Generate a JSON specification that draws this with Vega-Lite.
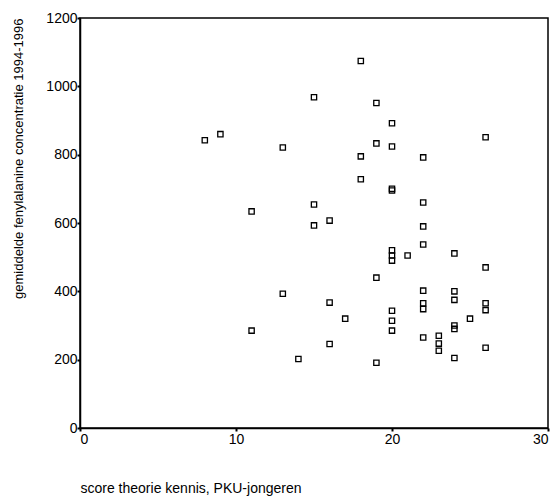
{
  "$schema": "https://vega.github.io/schema/vega-lite/v6.json",
  "width": 468,
  "height": 410,
  "autosize": {"type": "none"},
  "padding": {"left": 80, "top": 18, "right": 10, "bottom": 72},
  "background": "white",
  "config": {
    "font": "Liberation Sans",
    "view": {"stroke": "black", "strokeWidth": 1.5}
  },
  "data": {
    "values": [
      {"score": 8, "phe": 842}, {"score": 9, "phe": 860}, {"score": 11, "phe": 634}, {"score": 11, "phe": 285},
      {"score": 13, "phe": 821}, {"score": 13, "phe": 393}, {"score": 14, "phe": 202}, {"score": 15, "phe": 968},
      {"score": 15, "phe": 654}, {"score": 15, "phe": 593}, {"score": 16, "phe": 607}, {"score": 16, "phe": 367},
      {"score": 16, "phe": 246}, {"score": 17, "phe": 320}, {"score": 18, "phe": 1074}, {"score": 18, "phe": 795},
      {"score": 18, "phe": 728}, {"score": 19, "phe": 951}, {"score": 19, "phe": 833}, {"score": 19, "phe": 440},
      {"score": 19, "phe": 191}, {"score": 20, "phe": 892}, {"score": 20, "phe": 824}, {"score": 20, "phe": 700},
      {"score": 20, "phe": 695}, {"score": 20, "phe": 520}, {"score": 20, "phe": 505}, {"score": 20, "phe": 490},
      {"score": 20, "phe": 343}, {"score": 20, "phe": 314}, {"score": 20, "phe": 285}, {"score": 21, "phe": 505},
      {"score": 22, "phe": 792}, {"score": 22, "phe": 660}, {"score": 22, "phe": 590}, {"score": 22, "phe": 537},
      {"score": 22, "phe": 402}, {"score": 22, "phe": 365}, {"score": 22, "phe": 348}, {"score": 22, "phe": 265},
      {"score": 23, "phe": 270}, {"score": 23, "phe": 247}, {"score": 23, "phe": 226}, {"score": 24, "phe": 511},
      {"score": 24, "phe": 400}, {"score": 24, "phe": 375}, {"score": 24, "phe": 300}, {"score": 24, "phe": 290},
      {"score": 24, "phe": 205}, {"score": 25, "phe": 320}, {"score": 26, "phe": 851}, {"score": 26, "phe": 470},
      {"score": 26, "phe": 365}, {"score": 26, "phe": 345}, {"score": 26, "phe": 235}
    ]
  },
  "mark": {"type": "point", "shape": "square", "filled": false, "size": 28, "stroke": "black", "strokeWidth": 1.3, "opacity": 1},
  "encoding": {
    "x": {
      "field": "score", "type": "quantitative",
      "scale": {"domain": [0, 30], "nice": false, "zero": false},
      "axis": {
        "values": [0, 10, 20, 30], "format": "d", "grid": false, "domainColor": "black", "domainWidth": 1.5,
        "tickColor": "black", "tickSize": 3, "tickWidth": 2,
        "labelFont": "Liberation Sans", "labelFontSize": 14, "labelColor": "black", "labelPadding": 1,
        "title": "score theorie kennis, PKU-jongeren", "titleAnchor": "start", "titleAlign": "left",
        "titleFont": "Liberation Sans", "titleFontSize": 14, "titleFontWeight": "normal", "titleColor": "black", "titlePadding": 35
      }
    },
    "y": {
      "field": "phe", "type": "quantitative",
      "scale": {"domain": [0, 1200], "nice": false, "zero": false},
      "axis": {
        "values": [0, 200, 400, 600, 800, 1000, 1200], "format": "d", "grid": false, "domainColor": "black", "domainWidth": 1.5,
        "tickColor": "black", "tickSize": 3, "tickWidth": 2,
        "labelFont": "Liberation Sans", "labelFontSize": 14, "labelColor": "black", "labelPadding": 0,
        "title": "gemiddelde fenylalanine concentratie 1994-1996", "titleAnchor": "end",
        "titleFont": "Liberation Sans", "titleFontSize": 13, "titleFontWeight": "normal", "titleColor": "black", "titlePadding": 20
      }
    }
  }
}
